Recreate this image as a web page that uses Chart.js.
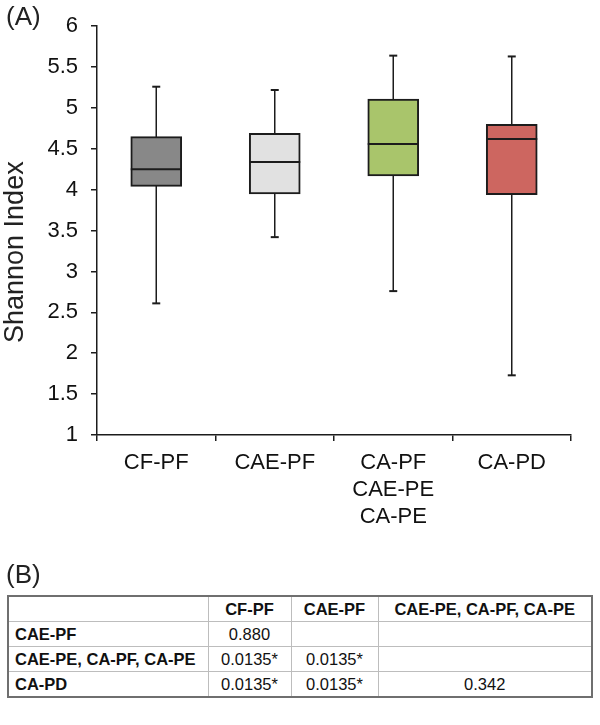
<!DOCTYPE html>
<html>
<head>
<meta charset="utf-8">
<script src="https://cdn.jsdelivr.net/npm/chart.js@4.4.1/dist/chart.umd.min.js"></script>
<style>
	body { margin: 0; background: #fff; font-family: "Liberation Sans", Arial, sans-serif; }
	#wrap { position: relative; width: 600px; height: 725px; }
	#chart-box { position: absolute; left: 0; top: 0; width: 600px; height: 545px; }
	.panel { position: absolute; left: 6px; font-size: 26px; color: #222; line-height: 1; }
	#ytitle {
		position: absolute; left: 0; top: 0; font-size: 27px; color: #222; white-space: nowrap;
		transform-origin: 0 0; transform: translate(1px, 343px) rotate(-90deg); line-height: 1;
	}
	table { position: absolute; left: 7px; top: 595px; width: 586px; border-collapse: collapse;
		border: 2px solid #6f6f6f; font-size: 16.5px; color: #111; table-layout: fixed; }
	td { border: 1px solid #bdbdbd; height: 24px; padding: 0 6px; text-align: center; }
	td.h { font-weight: bold; text-align: left; }
	tr.top td { font-weight: bold; }
</style>
</head>
<body>
<div id="wrap">
	<div id="chart-box"><canvas id="box-chart" width="600" height="545"></canvas></div>
	<div class="panel" style="top:3px">(A)</div>
	<div id="ytitle">Shannon Index</div>
	<div class="panel" style="top:561px">(B)</div>
	<table>
		<colgroup><col style="width:200px"><col style="width:83px"><col style="width:87px"><col></colgroup>
		<tr class="top"><td></td><td>CF-PF</td><td>CAE-PF</td><td>CAE-PE, CA-PF, CA-PE</td></tr>
		<tr><td class="h">CAE-PF</td><td>0.880</td><td></td><td></td></tr>
		<tr><td class="h">CAE-PE, CA-PF, CA-PE</td><td>0.0135*</td><td>0.0135*</td><td></td></tr>
		<tr><td class="h">CA-PD</td><td>0.0135*</td><td>0.0135*</td><td>0.342</td></tr>
	</table>
</div>

<script>
// box plot values
const groups = ['CF-PF', 'CAE-PF', ['CA-PF', 'CAE-PE', 'CA-PE'], 'CA-PD'];
const mins = [2.61, 3.42, 2.76, 1.73];
const q1s = [4.04, 3.95, 4.17, 3.94];
const medians = [4.25, 4.34, 4.56, 4.62];
const q3s = [4.65, 4.69, 5.11, 4.80];
const maxs = [5.26, 5.22, 5.64, 5.63];
const boxColors = ['#888888', '#e1e1e1', '#a9c56b', '#cd6660'];
const yTicks = [1, 1.5, 2, 2.5, 3, 3.5, 4, 4.5, 5, 5.5, 6];

const ink = '#1c1c1c';

const whiskers = {
	id: 'whiskers',
	beforeDatasetsDraw: function (chart) {
		const ctx = chart.ctx;
		const x = chart.scales.x;
		const y = chart.scales.y;
		ctx.save();
		ctx.strokeStyle = ink;
		mins.forEach(function (lo, i) {
			const cx = x.getPixelForValue(i);
			ctx.lineWidth = 1.5;
			ctx.beginPath();
			ctx.moveTo(cx, y.getPixelForValue(maxs[i]));
			ctx.lineTo(cx, y.getPixelForValue(lo));
			ctx.stroke();
			ctx.lineWidth = 2;
			[lo, maxs[i]].forEach(function (v) {
				const py = y.getPixelForValue(v);
				ctx.beginPath();
				ctx.moveTo(cx - 4, py);
				ctx.lineTo(cx + 4, py);
				ctx.stroke();
			});
		});
		ctx.restore();
	},
	afterDatasetsDraw: function (chart) {
		const ctx = chart.ctx;
		const y = chart.scales.y;
		const bars = chart.getDatasetMeta(0).data;
		ctx.save();
		ctx.strokeStyle = ink;
		ctx.lineWidth = 2;
		medians.forEach(function (m, i) {
			const bar = bars[i];
			const py = y.getPixelForValue(m);
			ctx.beginPath();
			ctx.moveTo(bar.x - bar.width / 2, py);
			ctx.lineTo(bar.x + bar.width / 2, py);
			ctx.stroke();
		});
		ctx.restore();
	}
};

new Chart(document.getElementById('box-chart'), {
	type: 'bar',
	data: {
		labels: groups,
		datasets: [{
			data: q1s.map(function (v, i) { return [v, q3s[i]]; }),
			backgroundColor: boxColors,
			borderColor: ink,
			borderWidth: 2,
			borderSkipped: false,
			barThickness: 51,
		}]
	},
	options: {
		responsive: false,
		animation: false,
		layout: { padding: { left: 0, right: 29, top: 21, bottom: 0 } },
		plugins: { legend: { display: false }, tooltip: { enabled: false } },
		scales: {
			x: {
				grid: { drawOnChartArea: false, offset: true, tickLength: 6, color: ink, lineWidth: 1.5 },
				border: { color: ink, width: 1.5 },
				ticks: { color: '#111', padding: 8, maxRotation: 0, font: { family: 'Liberation Sans', size: 22, lineHeight: 1.23 } },
				afterFit: function (scale) { scale.height = 110; }
			},
			y: {
				min: 1,
				max: 6,
				afterBuildTicks: function (scale) {
					scale.ticks = yTicks.map(function (v) { return { value: v }; });
				},
				grid: { drawOnChartArea: false, tickLength: 6, color: ink, lineWidth: 1.5 },
				border: { color: ink, width: 1.5 },
				ticks: {
					color: '#111', padding: 13, font: { family: 'Liberation Sans', size: 22 },
					callback: function (v) { return String(v); }
				},
				afterFit: function (scale) { scale.width = 97; }
			}
		}
	},
	plugins: [whiskers]
});
</script>
</body>
</html>
